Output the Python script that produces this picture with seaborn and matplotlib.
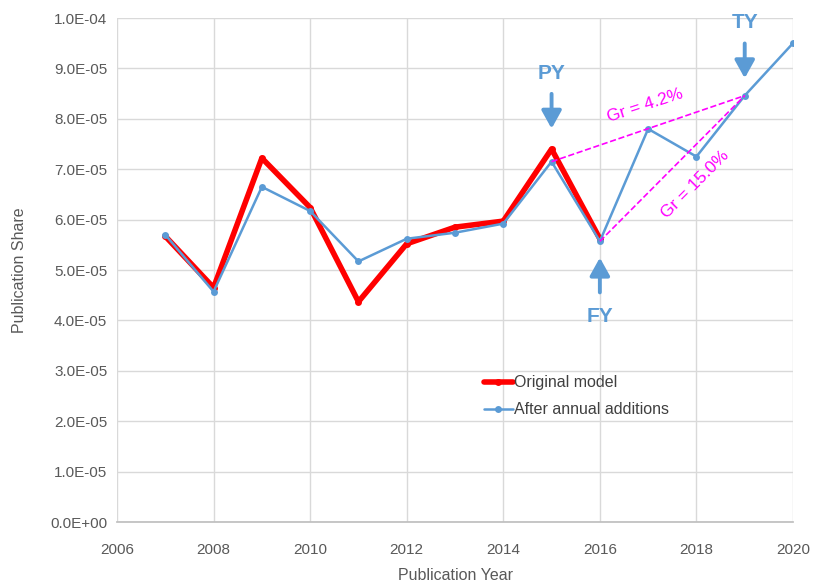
import numpy as np
import pandas as pd
import matplotlib
matplotlib.use("Agg")
import matplotlib.pyplot as plt
from matplotlib.ticker import FuncFormatter
import seaborn as sns

# data
years_orig = [2007, 2008, 2009, 2010, 2011, 2012, 2013, 2014, 2015, 2016]
share_orig = [5.67e-05, 4.65e-05, 7.22e-05, 6.24e-05, 4.37e-05, 5.52e-05, 5.85e-05, 5.97e-05, 7.40e-05, 5.62e-05]

years_add = [2007, 2008, 2009, 2010, 2011, 2012, 2013, 2014, 2015, 2016, 2017, 2018, 2019, 2020]
share_add = [5.70e-05, 4.57e-05, 6.65e-05, 6.17e-05, 5.17e-05, 5.62e-05, 5.74e-05, 5.92e-05, 7.15e-05, 5.57e-05, 7.80e-05, 7.25e-05, 8.46e-05, 9.50e-05]

py, fy, ty = 2015, 2016, 2019
gr_labels = ["Gr = 4.2%", "Gr = 15.0%"]

df_orig = pd.DataFrame({"Publication Year": years_orig, "Publication Share": share_orig})
df_add = pd.DataFrame({"Publication Year": years_add, "Publication Share": share_add})

sns.set_theme(style="whitegrid")
plt.rcParams["font.family"] = ["Liberation Sans Narrow", "Liberation Sans", "DejaVu Sans"]

fig = plt.figure(figsize=(8.17, 5.86), dpi=100)
ax = fig.add_axes([117 / 817, 1 - 522 / 586, (793 - 117) / 817, (522 - 18) / 586])

blue = "#5b9bd5"
sns.lineplot(data=df_orig, x="Publication Year", y="Publication Share", ax=ax,
             color="#ff0000", lw=4, marker="o", markersize=5, markeredgewidth=0,
             label="Original model", zorder=3)
sns.lineplot(data=df_add, x="Publication Year", y="Publication Share", ax=ax,
             color=blue, lw=1.8, marker="o", markersize=5, markeredgewidth=0,
             label="After annual additions", zorder=4)

# growth-rate dashed lines
s = dict(zip(years_add, share_add))
mag = "#ff00ff"
ax.plot([py, ty], [s[py], s[ty]], ls="--", color=mag, lw=1.2, zorder=5)
ax.plot([fy, ty], [s[fy], s[ty]], ls="--", color=mag, lw=1.2, zorder=5)
ax.text(2016.93, 8.27e-05, gr_labels[0], color=mag, fontsize=12.5, rotation=18,
        ha="center", va="center")
ax.text(2017.97, 6.7e-05, gr_labels[1], color=mag, fontsize=12.5, rotation=45,
        ha="center", va="center")

# PY / FY / TY arrows
arrow = dict(arrowstyle="-|>,head_length=0.9,head_width=0.5", color=blue, lw=2.8)
ax.annotate("", xy=(py, 7.75e-05), xytext=(py, 8.55e-05), arrowprops=arrow)
ax.text(py, 8.72e-05, "PY", color=blue, fontsize=15, fontweight="bold", ha="center", va="bottom")
ax.annotate("", xy=(fy, 5.3e-05), xytext=(fy, 4.5e-05), arrowprops=arrow)
ax.text(fy, 4.27e-05, "FY", color=blue, fontsize=15, fontweight="bold", ha="center", va="top")
ax.annotate("", xy=(ty, 8.75e-05), xytext=(ty, 9.55e-05), arrowprops=arrow)
ax.text(ty, 9.72e-05, "TY", color=blue, fontsize=15, fontweight="bold", ha="center", va="bottom")

ax.set_xlim(2006, 2020)
ax.set_ylim(0, 1.0e-04)
ax.set_xticks(range(2006, 2021, 2))
ax.set_yticks(np.arange(0, 1.01e-04, 1e-05))
ax.yaxis.set_major_formatter(FuncFormatter(lambda v, p: "%.1E" % v))
ax.yaxis.get_offset_text().set_visible(False)

ax.grid(True, color="#d9d9d9", lw=1)
for side in ["top", "right", "left"]:
    ax.spines[side].set_visible(False)
ax.spines["bottom"].set_color("#bfbfbf")
ax.tick_params(axis="both", colors="#595959", labelsize=11, length=0)
ax.tick_params(axis="x", pad=15)
ax.tick_params(axis="y", pad=7)
ax.set_xlabel("Publication Year", color="#595959", fontsize=11.5, labelpad=8)
ax.set_ylabel("Publication Share", color="#595959", fontsize=11.5, labelpad=17)

leg = ax.legend(loc="upper left", bbox_to_anchor=(0.543, 0.291), frameon=False,
                fontsize=11.5, handlelength=1.8, handletextpad=0.05, labelspacing=0.75,
                borderaxespad=0, borderpad=0)
for t in leg.get_texts():
    t.set_color("#404040")

fig.savefig("out.png", dpi=100)
